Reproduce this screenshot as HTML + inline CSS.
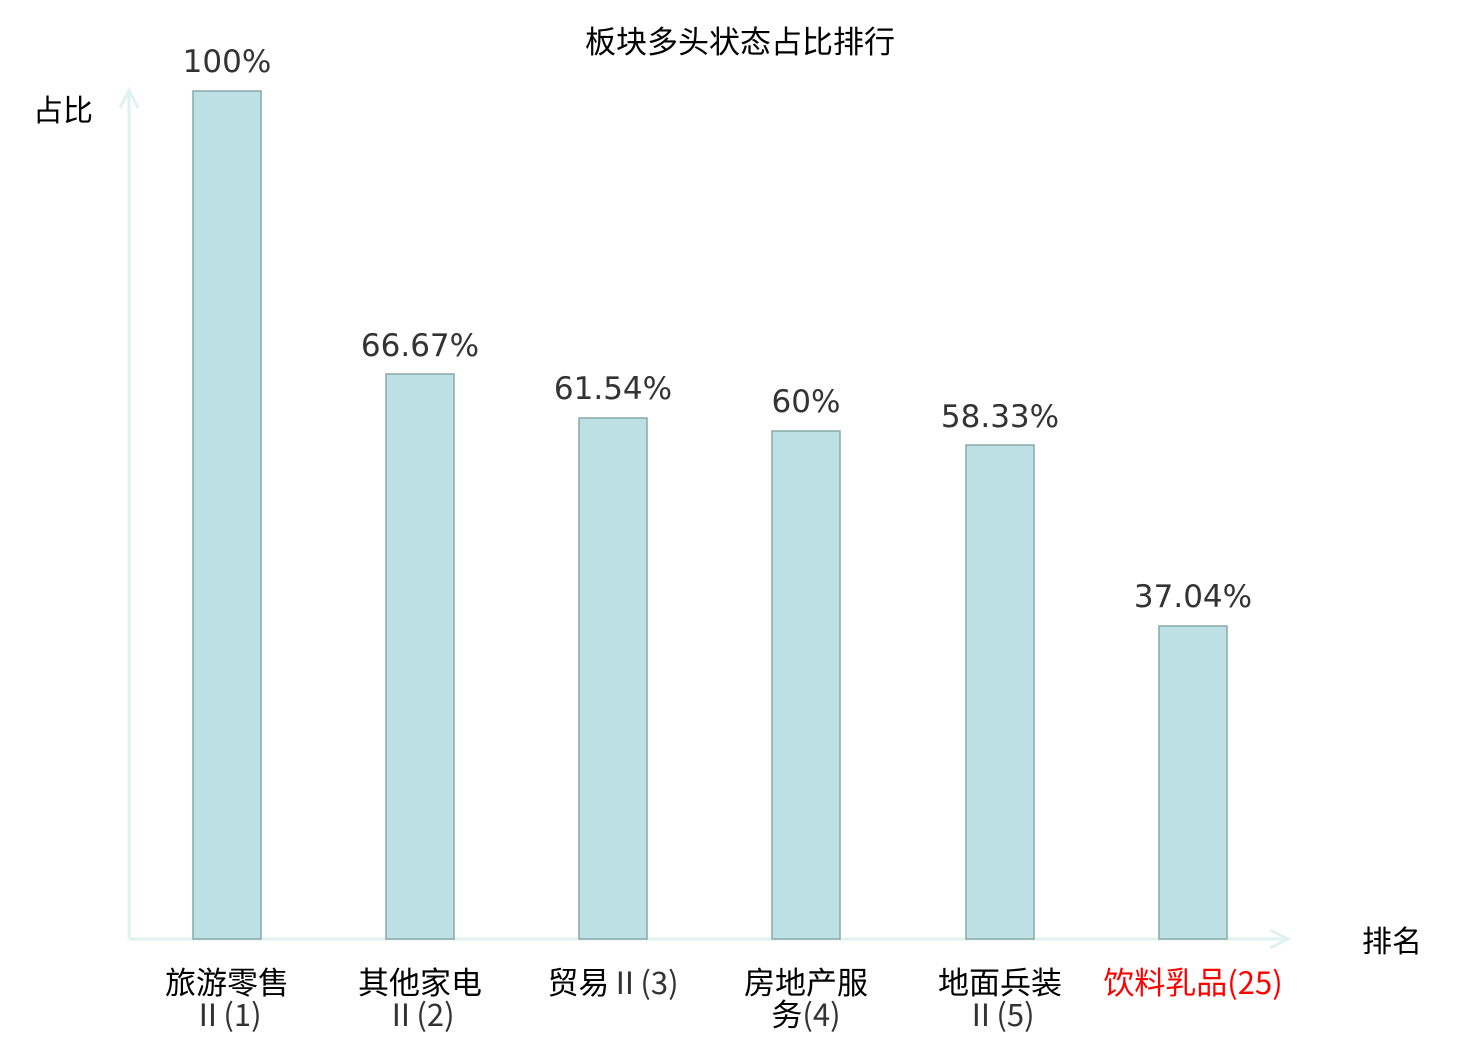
<!DOCTYPE html>
<html><head><meta charset="utf-8"><style>
html,body{margin:0;padding:0;background:#fff;}
svg text{font-family:"DejaVu Sans","Noto Sans CJK SC",sans-serif;}
svg .c{font-family:"Noto Sans CJK SC",sans-serif;}
</style></head><body>
<svg width="1480" height="1040" xmlns="http://www.w3.org/2000/svg">
<text class="c" x="740" y="53" font-size="31" text-anchor="middle" fill="#000">板块多头状态占比排行</text>
<text class="c" x="63" y="121" font-size="30" text-anchor="middle" fill="#000">占比</text>
<text class="c" x="1392" y="952" font-size="30" text-anchor="middle" fill="#000">排名</text>
<g stroke="#dff2ef" stroke-width="3" fill="none">
<line x1="129" y1="939" x2="129" y2="90"/>
<polyline points="120,108 129,90 138,108"/>
<line x1="129" y1="939" x2="1288" y2="939"/>
<polyline points="1270,930 1288,939 1270,948"/>
</g>
<g fill="#bce0e3" stroke="#8aa9aa" stroke-width="1.5">
<rect x="193" y="91" width="68" height="848"/>
<rect x="386" y="374" width="68" height="565"/>
<rect x="579" y="418" width="68" height="521"/>
<rect x="772" y="431" width="68" height="508"/>
<rect x="966" y="445" width="68" height="494"/>
<rect x="1159" y="626" width="68" height="313"/>
</g>
<g font-size="31" text-anchor="middle" fill="#333">
<text x="227" y="72">100%</text>
<text x="420" y="356">66.67%</text>
<text x="613" y="399">61.54%</text>
<text x="806" y="412">60%</text>
<text x="1000" y="427">58.33%</text>
<text x="1193" y="607">37.04%</text>
</g>
<g class="c" font-size="31" text-anchor="middle" fill="#000">
<text class="c" x="227" y="994">旅游零售</text><text class="c" x="227" y="1026" fill="#333">Ⅱ(1)</text>
<text class="c" x="420" y="994">其他家电</text><text class="c" x="420" y="1026" fill="#333">Ⅱ(2)</text>
<text class="c" x="613" y="994">贸易<tspan fill="#333">Ⅱ(3)</tspan></text>
<text class="c" x="806" y="994">房地产服</text><text class="c" x="806" y="1026">务<tspan fill="#333">(4)</tspan></text>
<text class="c" x="1000" y="994">地面兵装</text><text class="c" x="1000" y="1026" fill="#333">Ⅱ(5)</text>
<text class="c" x="1193" y="994" fill="#ff0000">饮料乳品(25)</text>
</g>
</svg>
</body></html>
